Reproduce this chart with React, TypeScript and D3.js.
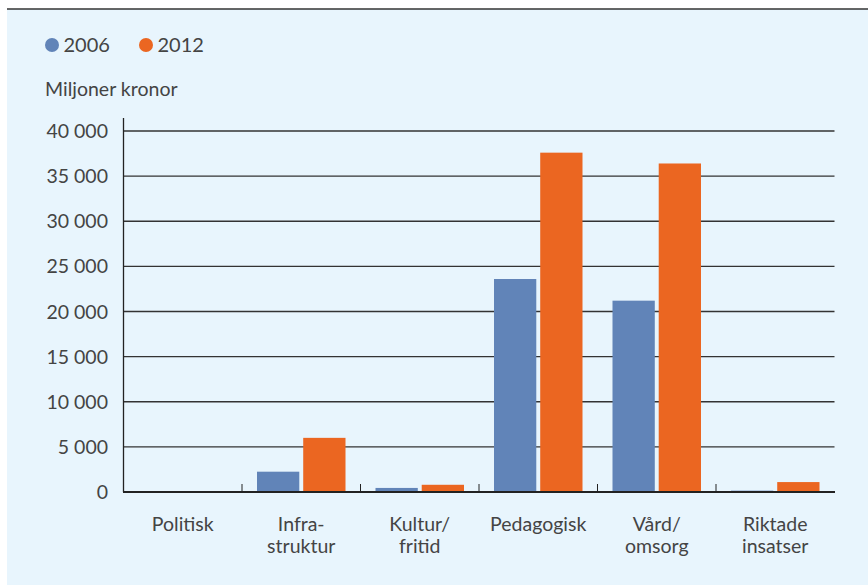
import React from "react";
import * as d3 from "d3";

const categories = [["Politisk"], ["Infra-", "struktur"], ["Kultur/", "fritid"], ["Pedagogisk"], ["Vård/", "omsorg"], ["Riktade", "insatser"]];
const seriesNames = ["2006", "2012"];
const values2006 = [0, 2250, 450, 23600, 21200, 150];
const values2012 = [0, 6000, 800, 37600, 36400, 1100];
const yTicks = [0, 5000, 10000, 15000, 20000, 25000, 30000, 35000, 40000];
const colors = ["#6184b8", "#eb6621"];
const yTitle = "Miljoner kronor";

const W = 868, H = 585;
const FONT = "Lato, 'Open Sans', sans-serif";
const TXT = "#444";

export default function App() {
  const x = d3.scaleBand<number>().domain(d3.range(categories.length)).range([123.5, 834.5]).paddingInner(0).paddingOuter(0);
  const y = d3.scaleLinear().domain([0, 40000]).range([492, 131]);
  const inner = d3.scaleBand<number>().domain([0, 1]).range([15, x.bandwidth() - 15]).paddingInner(0.085);
  const fmt = (v: number) => d3.format(",")(v).replace(/,/g, " ");
  const series = [values2006, values2012];
  return (
    <svg width={W} height={H} style={{ position: "absolute", left: 0, top: 0, display: "block" }}>
      <rect x={0} y={0} width={W} height={H} fill="#fff" />
      <rect x={7} y={9} width={W - 7} height={H - 9} fill="#e8f5fd" />
      <line x1={7} x2={W} y1={9} y2={9} stroke="#333" strokeWidth={1.5} />
      {/* legend */}
      {seriesNames.map((s, i) => (
        <g key={s} transform={`translate(${52 + i * 94},45)`}>
          <circle cx={0} cy={0} r={7} fill={colors[i]} />
          <text x={11.5} y={7} fontFamily={FONT} fontSize={20} fill={TXT}>{s}</text>
        </g>
      ))}
      <text x={45} y={96} fontFamily={FONT} fontSize={19.5} fill={TXT}>{yTitle}</text>
      {/* grid */}
      {yTicks.filter(t => t > 0).map(t => (
        <line key={t} x1={123.5} x2={834.5} y1={y(t)} y2={y(t)} stroke="#333" strokeWidth={1.3} />
      ))}
      {yTicks.map(t => (
        <text key={"l" + t} x={108} y={y(t) + 7} textAnchor="end" fontFamily={FONT} fontSize={19.5} fill={TXT}>{fmt(t)}</text>
      ))}
      {/* bars */}
      {categories.map((c, ci) => (
        <g key={ci} transform={`translate(${x(ci)},0)`}>
          {series.map((vals, si) => (
            vals[ci] > 0 ? <rect key={si} x={inner(si)} y={y(vals[ci])} width={inner.bandwidth()} height={y(0) - y(vals[ci])} fill={colors[si]} /> : null
          ))}
        </g>
      ))}
      {/* axes */}
      <line x1={123.5} x2={123.5} y1={118} y2={492} stroke="#222" strokeWidth={1.3} />
      <line x1={123} x2={835} y1={492} y2={492} stroke="#222" strokeWidth={2} />
      {categories.slice(1).map((_, i) => (
        <line key={"t" + i} x1={x(i + 1)} x2={x(i + 1)} y1={484} y2={492} stroke="#222" strokeWidth={1} />
      ))}
      {categories.map((c, ci) => (
        <text key={"c" + ci} x={(x(ci) as number) + x.bandwidth() / 2} y={531} textAnchor="middle" fontFamily={FONT} fontSize={19.5} fill={TXT}>
          {c.map((line, li) => (
            <tspan key={li} x={(x(ci) as number) + x.bandwidth() / 2} dy={li === 0 ? 0 : 22}>{line}</tspan>
          ))}
        </text>
      ))}
    </svg>
  );
}
